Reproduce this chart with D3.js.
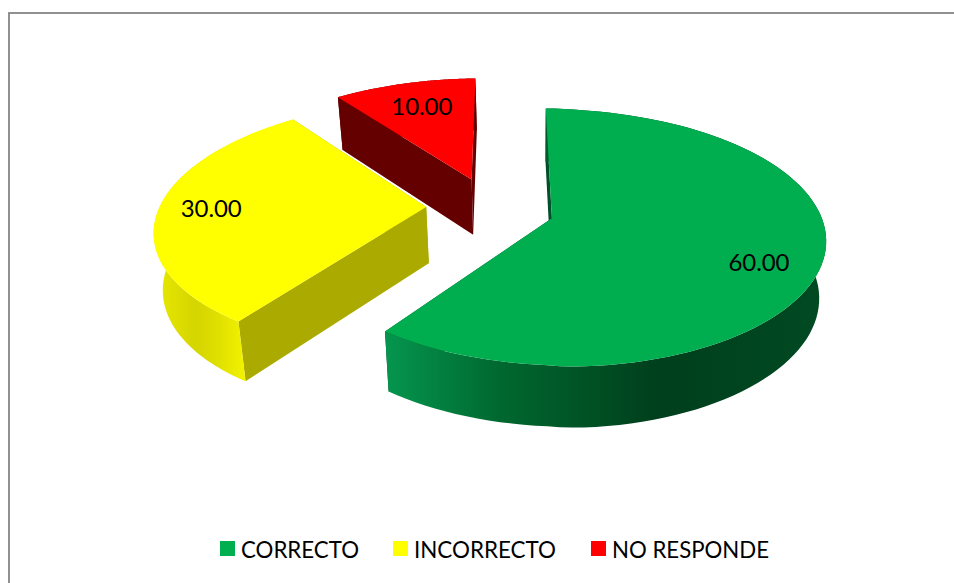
<!DOCTYPE html>
<html>
<head>
<meta charset="utf-8">
<script src="https://cdn.jsdelivr.net/npm/d3@7/dist/d3.min.js"></script>
<style>
html,body{margin:0;padding:0;background:#fff;}
svg{display:block;}
text{font-family:Lato,"Open Sans",sans-serif;fill:#000;}
</style>
</head>
<body>
<svg id="chart" width="954" height="583"></svg>
<script>
// DATA
const categories = ["CORRECTO", "INCORRECTO", "NO RESPONDE"];
const values = [60, 30, 10];
const labels = ["60.00", "30.00", "10.00"];

// STYLE / LAYOUT
const topColors = ["#00AE50", "#FFFF00", "#FF0000"];
const innerColors = ["#00502A", "#AAAA00", "#640000"];
const swatchColors = ["#00B050", "#FFFF00", "#FF0000"];
const W = 954, H = 583;
const cx = 552, cy = 218, rx = 270, ry = 125.8, k = 0.144;
const depthBase = 29, depthScale = 27.5, vanishX = 535, converge = 0.024;
const explode = 0.25;
const rot = -1.5 * Math.PI / 180;
const centre = [-explode * 0.96, -explode * 0.276];
const nudge = [[0, 0], [0.018, -0.026], [0.012, -0.016]];
const rimDroop = [0.034, 0, 0];
const rimPull = [0.06, 0, 0];

const svg = d3.select("#chart");
const defs = svg.append("defs");

// Frame
svg.append("rect").attr("x", 9).attr("y", 13).attr("width", W).attr("height", H)
  .attr("fill", "#fff").attr("stroke", "#868686").attr("stroke-width", 1.8);

const wallStops = [
  [[385, "#05964E"], [500, "#00682F"], [657, "#003F1C"], [825, "#004A22"]],
  [[157, "#E8E800"], [195, "#D5D500"], [215, "#DEDE00"], [245, "#F2F200"]],
  [[340, "#640000"], [473, "#640000"]]
];
wallStops.forEach((st, i) => {
  const g = defs.append("linearGradient").attr("id", "wall" + i)
    .attr("gradientUnits", "userSpaceOnUse")
    .attr("x1", st[0][0]).attr("x2", st[st.length - 1][0]).attr("y1", 0).attr("y2", 0);
  st.forEach(s => g.append("stop")
    .attr("offset", (s[0] - st[0][0]) / (st[st.length - 1][0] - st[0][0]))
    .attr("stop-color", s[1]));
});

// Perspective projection of disc coordinates
function projTop(u, v) {
  const s = 1 / (1 - k * v);
  return [cx + rx * u * s, cy + ry * v * s, s];
}
function projBottom(u, v) {
  const p = projTop(u, v);
  return [p[0] - (p[0] - vanishX) * converge, p[1] + depthBase + depthScale * p[2]];
}

const arcs = d3.pie().sort(null).startAngle(rot).endAngle(rot + 2 * Math.PI)(values);
const line = d3.line();

const slices = arcs.map((a, i) => {
  const mid = (a.startAngle + a.endAngle) / 2;
  const o = [centre[0] + explode * Math.sin(mid) + nudge[i][0], centre[1] - explode * Math.cos(mid) + nudge[i][1]];
  const steps = d3.range(0, 97).map(t => a.startAngle + (a.endAngle - a.startAngle) * t / 96);
  const rim = steps.map(t => {
    const r = 1 - rimPull[i] * Math.max(0, -Math.sin(t));
    return [
      o[0] + r * Math.sin(t),
      o[1] - r * Math.cos(t) + rimDroop[i] * Math.sqrt(Math.max(0, Math.sin(t)))
    ];
  });
  return {a, i, o, rim};
});

[2, 1, 0].forEach(idx => {
  const d = slices[idx];
  const g = svg.append("g").attr("class", "slice");
  const first = d.rim[0], last = d.rim[d.rim.length - 1];
  const wallQuad = (p, q) => [projTop(...p), projTop(...q), projBottom(...q), projBottom(...p)].map(c => c.slice(0, 2));
  // radial walls
  g.append("path").attr("d", line(wallQuad(d.o, first)) + "Z").attr("fill", innerColors[idx]);
  g.append("path").attr("d", line(wallQuad(d.o, last)) + "Z").attr("fill", innerColors[idx]);
  // outer wall
  const outer = d.rim.map(p => projTop(...p).slice(0, 2))
    .concat(d.rim.slice().reverse().map(p => projBottom(...p)));
  g.append("path").attr("d", line(outer) + "Z").attr("fill", "url(#wall" + idx + ")");
  // top face
  const face = [d.o].concat(d.rim).map(p => projTop(...p).slice(0, 2));
  g.append("path").attr("d", line(face) + "Z").attr("fill", topColors[idx]);
});

// Data labels
const labelPolar = [[0.80, 114], [0.805, 269.5], [0.742, 341]];
slices.forEach((d, i) => {
  const t = labelPolar[i][1] * Math.PI / 180, r = labelPolar[i][0];
  const p = projTop(d.o[0] + r * Math.sin(t), d.o[1] - r * Math.cos(t));
  svg.append("text").attr("x", p[0]).attr("y", p[1])
    .attr("text-anchor", "middle").attr("dominant-baseline", "central")
    .attr("font-size", 24).attr("textLength", 61).text(labels[i]);
});

// Legend
const legendX = d3.scaleOrdinal().domain(categories).range([220, 393, 591]);
const legendWidths = [118, 142, 157];
categories.forEach((c, i) => {
  const x = legendX(c);
  svg.append("rect").attr("x", x).attr("y", 541).attr("width", 15).attr("height", 15).attr("fill", swatchColors[i]);
  svg.append("text").attr("x", x + 21).attr("y", 548.5)
    .attr("dominant-baseline", "central").attr("font-size", 23)
    .attr("textLength", legendWidths[i]).attr("lengthAdjust", "spacingAndGlyphs").text(c);
});
</script>
</body>
</html>
